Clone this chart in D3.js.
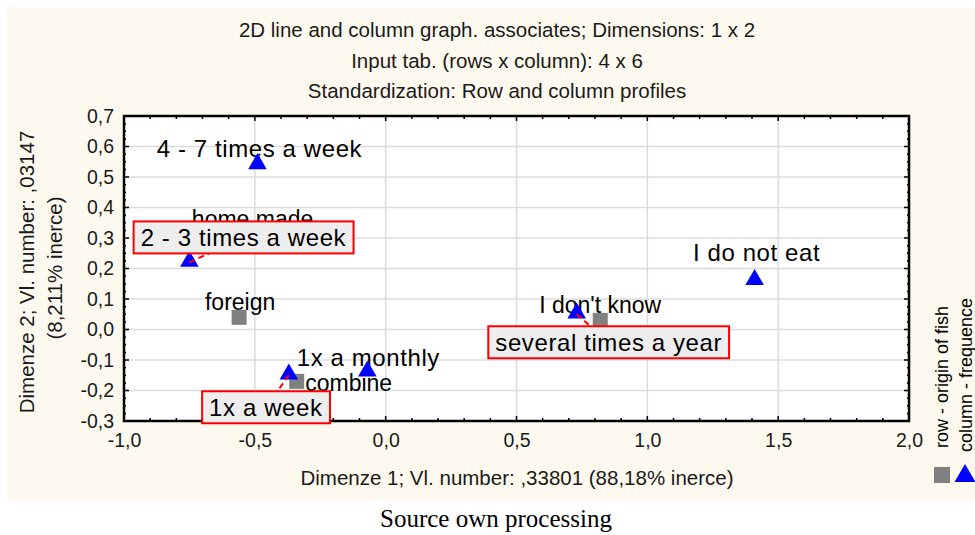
<!DOCTYPE html>
<html>
<head>
<meta charset="utf-8">
<script src="https://cdn.jsdelivr.net/npm/d3@7"></script>
<style>
  body { margin: 0; background: #ffffff; }
  svg { display: block; }
</style>
</head>
<body>
<div id="viz-container"></div>
<script>
// column points (frequence) - blue triangles
let colNames = ["4 - 7 times a week", "2 - 3 times a week", "1x a week", "1x a monthly", "several times a year", "I do not eat"];
let colDim1 = [-0.49, -0.75, -0.37, -0.07, 0.73, 1.41];
let colDim2 = [0.54, 0.22, -0.15, -0.14, 0.05, 0.16];
let colBoxed = [false, true, true, false, true, false];

// row points (origin of fish) - grey squares
let rowNames = ["home made", "foreign", "combine", "I don't know"];
let rowDim1 = [-0.52, -0.56, -0.34, 0.82];
let rowDim2 = [0.31, 0.04, -0.17, 0.03];

let titleLines = [
  "2D line and column graph. associates; Dimensions: 1 x 2",
  "Input tab. (rows x column): 4 x 6",
  "Standardization: Row and column profiles"
];
let xTicks = [-1.0, -0.5, 0.0, 0.5, 1.0, 1.5, 2.0];
let yTicks = [-0.3, -0.2, -0.1, 0.0, 0.1, 0.2, 0.3, 0.4, 0.5, 0.6, 0.7];

// where the labels sit relative to the point (pixels)
let colLabelShift = [[2, -16], [54, -25], [-23, 32], [1, -15], [32, 28], [2, -28]];
let rowLabelShift = [[3, -16], [1, -15], [52, 2], [0, -15]];

let W = 975, H = 535;
let pLeft = 124, pRight = 909, pTop = 116, pBottom = 421;
let font = "'Liberation Sans', Arial, sans-serif";

let viz = d3.select("#viz-container")
  .append("svg")
    .attr("width", W)
    .attr("height", H)
    .style("background-color", "white");

// cream figure background
viz.append("rect")
  .attr("x", 7).attr("y", 7)
  .attr("width", W - 7).attr("height", 493)
  .attr("fill", "#fef9ee");

let x = d3.scaleLinear().domain([-1, 2]).range([pLeft, pRight]);
let y = d3.scaleLinear().domain([-0.3, 0.7]).range([pBottom, pTop]);

function fmt(v) {
  return d3.format(".1f")(v).replace("−", "-").replace(".", ",");
}

// titles
viz.selectAll(".title").data(titleLines).enter().append("text")
  .attr("class", "title")
  .attr("x", 497)
  .attr("y", (d, i) => 37 + i * 30.5)
  .attr("text-anchor", "middle")
  .style("font-family", font)
  .style("font-size", "20.5px")
  .attr("fill", "#1a1a1a")
  .text(d => d);

// plot area
viz.append("rect")
  .attr("x", pLeft).attr("y", pTop)
  .attr("width", pRight - pLeft).attr("height", pBottom - pTop)
  .attr("fill", "white");

// grid
viz.selectAll(".vgrid").data(xTicks.slice(1, -1)).enter().append("line")
  .attr("x1", d => x(d)).attr("x2", d => x(d))
  .attr("y1", pTop).attr("y2", pBottom)
  .attr("stroke", "#dcdcdc").attr("stroke-width", 1.5);
viz.selectAll(".hgrid").data(yTicks.slice(1, -1)).enter().append("line")
  .attr("y1", d => y(d)).attr("y2", d => y(d))
  .attr("x1", pLeft).attr("x2", pRight)
  .attr("stroke", "#dcdcdc").attr("stroke-width", 1.5);

// inner ticks
let xMinor = d3.range(-10, 21).map(d => d / 10);
let yMinor = d3.range(-12, 29).map(d => d / 40);
let tickG = viz.append("g").attr("stroke", "black").attr("stroke-width", 1.5);
xMinor.forEach(function(v) {
  let len = Math.abs(v * 2 - Math.round(v * 2)) < 1e-6 ? 5 : 3;
  tickG.append("line").attr("x1", x(v)).attr("x2", x(v)).attr("y1", pBottom).attr("y2", pBottom - len);
  tickG.append("line").attr("x1", x(v)).attr("x2", x(v)).attr("y1", pTop).attr("y2", pTop + len);
});
yMinor.forEach(function(v) {
  let len = Math.abs(v * 10 - Math.round(v * 10)) < 1e-6 ? 5 : 2;
  tickG.append("line").attr("y1", y(v)).attr("y2", y(v)).attr("x1", pLeft).attr("x2", pLeft + len);
  tickG.append("line").attr("y1", y(v)).attr("y2", y(v)).attr("x1", pRight).attr("x2", pRight - len);
});

// frame
viz.append("rect")
  .attr("x", pLeft).attr("y", pTop)
  .attr("width", pRight - pLeft).attr("height", pBottom - pTop)
  .attr("fill", "none").attr("stroke", "black").attr("stroke-width", 2.5);

// axis labels via d3 axes (ticks hidden, only text)
let xAxis = viz.append("g")
  .attr("transform", "translate(0," + pBottom + ")")
  .call(d3.axisBottom(x).tickValues(xTicks).tickSize(0).tickPadding(12).tickFormat(fmt));
let yAxis = viz.append("g")
  .attr("transform", "translate(" + pLeft + ",0)")
  .call(d3.axisLeft(y).tickValues(yTicks).tickSize(0).tickPadding(10).tickFormat(fmt));
[xAxis, yAxis].forEach(function(a) {
  a.select(".domain").remove();
  a.selectAll("text")
    .style("font-family", font)
    .style("font-size", "19.5px")
    .attr("fill", "#1a1a1a");
});

// axis titles
viz.append("text")
  .attr("x", 517).attr("y", 485)
  .attr("text-anchor", "middle")
  .style("font-family", font).style("font-size", "20.5px").attr("fill", "#1a1a1a")
  .text("Dimenze 1; Vl. number: ,33801 (88,18% inerce)");
viz.append("text")
  .attr("transform", "translate(34,272) rotate(-90)")
  .attr("text-anchor", "middle")
  .style("font-family", font).style("font-size", "20.5px").attr("fill", "#1a1a1a")
  .text("Dimenze 2; Vl. number: ,03147");
viz.append("text")
  .attr("transform", "translate(62,268) rotate(-90)")
  .attr("text-anchor", "middle")
  .style("font-family", font).style("font-size", "20.5px").attr("fill", "#1a1a1a")
  .text("(8,211% inerce)");

// data tables
let cols = colNames.map((n, i) => ({name: n, d1: colDim1[i], d2: colDim2[i], boxed: colBoxed[i], shift: colLabelShift[i]}));
let rows = rowNames.map((n, i) => ({name: n, d1: rowDim1[i], d2: rowDim2[i], shift: rowLabelShift[i]}));

// plain labels
viz.selectAll(".rowLabel").data(rows).enter().append("text")
  .attr("class", "rowLabel")
  .attr("x", d => x(d.d1) + d.shift[0])
  .attr("y", d => y(d.d2) + d.shift[1])
  .attr("dy", "0.35em")
  .attr("text-anchor", "middle")
  .style("font-family", font).style("font-size", "23px")
  .text(d => d.name);
viz.selectAll(".colLabel").data(cols.filter(d => !d.boxed)).enter().append("text")
  .attr("class", "colLabel")
  .attr("x", d => x(d.d1) + d.shift[0])
  .attr("y", d => y(d.d2) + d.shift[1])
  .attr("dy", "0.35em")
  .attr("text-anchor", "middle")
  .style("font-family", font).style("font-size", "24px")
  .style("letter-spacing", "0.6px")
  .text(d => d.name);

// markers
let sq = 15;
viz.selectAll(".rowPoint").data(rows).enter().append("rect")
  .attr("class", "rowPoint")
  .attr("x", d => x(d.d1) - sq / 2)
  .attr("y", d => y(d.d2) - sq / 2)
  .attr("width", sq).attr("height", sq)
  .attr("fill", "#808080");
let tri = d3.symbol().type(d3.symbolTriangle).size(150);
viz.selectAll(".colPoint").data(cols).enter().append("path")
  .attr("class", "colPoint")
  .attr("d", tri)
  .attr("transform", d => "translate(" + x(d.d1) + "," + (y(d.d2) - 1) + ")")
  .attr("fill", "#0000ff");

// boxed labels with dashed leader lines
let boxed = cols.filter(d => d.boxed);
viz.selectAll(".leader").data(boxed).enter().append("line")
  .attr("x1", d => x(d.d1)).attr("y1", d => y(d.d2))
  .attr("x2", d => x(d.d1) + d.shift[0])
  .attr("y2", d => y(d.d2) + d.shift[1])
  .attr("stroke", "red").attr("stroke-width", 2)
  .attr("stroke-dasharray", "6,4");
let boxG = viz.selectAll(".boxLabel").data(boxed).enter().append("g")
  .attr("class", "boxLabel")
  .attr("transform", d => "translate(" + (x(d.d1) + d.shift[0]) + "," + (y(d.d2) + d.shift[1]) + ")");
boxG.append("rect").attr("class", "bg");
boxG.append("text")
  .attr("text-anchor", "middle")
  .attr("dy", "0.35em")
  .style("font-family", font).style("font-size", "24px")
  .style("letter-spacing", "0.6px")
  .text(d => d.name);
boxG.each(function() {
  let g = d3.select(this);
  let b = g.select("text").node().getBBox();
  g.select("rect")
    .attr("x", b.x - 7).attr("y", -16)
    .attr("width", b.width + 14).attr("height", 32)
    .attr("fill", "#eeeeee")
    .attr("stroke", "red").attr("stroke-width", 2);
});

// legend (rotated)
viz.append("text")
  .attr("transform", "translate(948,448) rotate(-90)")
  .style("font-family", font).style("font-size", "18px")
  .text("row - origin of fish");
viz.append("text")
  .attr("transform", "translate(972,452) rotate(-90)")
  .style("font-family", font).style("font-size", "18px")
  .text("column - frequence");
viz.append("rect")
  .attr("x", 934).attr("y", 467).attr("width", 16).attr("height", 16)
  .attr("fill", "#808080");
viz.append("path")
  .attr("d", d3.symbol().type(d3.symbolTriangle).size(190))
  .attr("transform", "translate(965,476)")
  .attr("fill", "#0000ff");

// caption
viz.append("text")
  .attr("x", 496).attr("y", 527)
  .attr("text-anchor", "middle")
  .style("font-family", "'Liberation Serif', 'Times New Roman', serif")
  .style("font-size", "25px")
  .text("Source own processing");
</script>
</body>
</html>
